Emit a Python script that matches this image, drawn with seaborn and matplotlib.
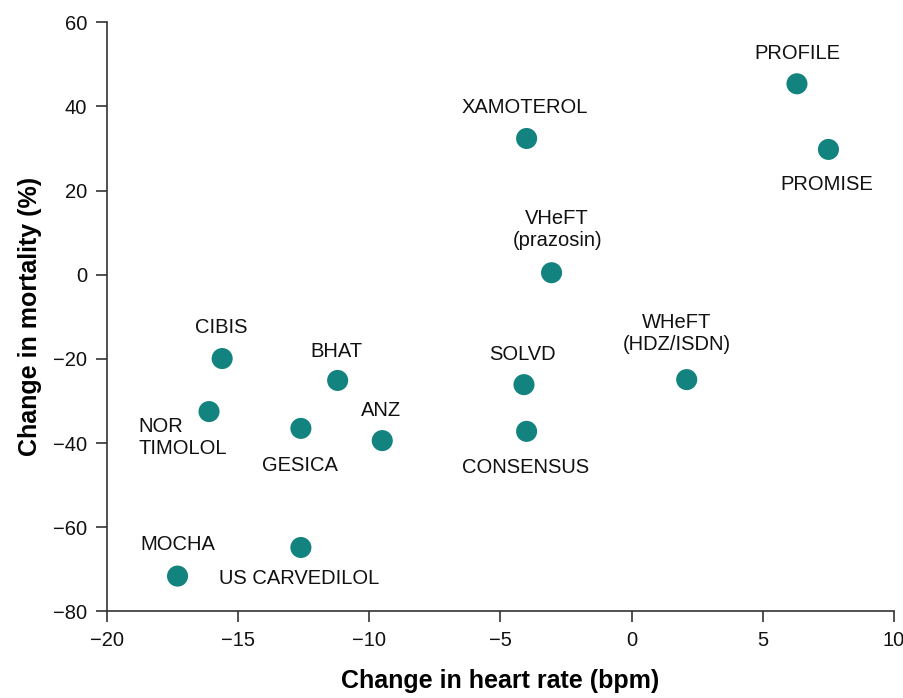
import pandas as pd
import matplotlib.pyplot as plt
import seaborn as sns

trials = ["PROFILE", "PROMISE", "XAMOTEROL", "VHeFT\n(prazosin)", "WHeFT\n(HDZ/ISDN)",
          "SOLVD", "CONSENSUS", "CIBIS", "BHAT", "NOR\nTIMOLOL", "GESICA", "ANZ",
          "MOCHA", "US CARVEDILOL"]
heart_rate = [6.3, 7.5, -4.0, -3.05, 2.1, -4.1, -4.0, -15.6, -11.2, -16.1, -12.6, -9.5, -17.3, -12.6]
mortality = [45.4, 29.8, 32.4, 0.5, -24.9, -26.1, -37.2, -19.9, -25.1, -32.5, -36.5, -39.4, -71.6, -64.8]

x_ticks = [-20, -15, -10, -5, 0, 5, 10]
y_ticks = [-80, -60, -40, -20, 0, 20, 40, 60]

# label offsets in points (dx, dy, ha)
label_pos = {
    "PROFILE": (0, 22, "center"),
    "PROMISE": (-1, -25, "center"),
    "XAMOTEROL": (-1, 22, "center"),
    "VHeFT\n(prazosin)": (4, 31, "center"),
    "WHeFT\n(HDZ/ISDN)": (-7, 33, "center"),
    "SOLVD": (-1, 22, "center"),
    "CONSENSUS": (-1, -26, "center"),
    "CIBIS": (-1, 22, "center"),
    "BHAT": (-1, 21, "center"),
    "NOR\nTIMOLOL": (-51, -19, "left"),
    "GESICA": (-1, -27, "center"),
    "ANZ": (-1, 22, "center"),
    "MOCHA": (0, 23, "center"),
    "US CARVEDILOL": (-1, -22, "center"),
}

df = pd.DataFrame({"trial": trials, "hr": heart_rate, "mort": mortality})

sns.set_style("ticks")
plt.rcParams["font.family"] = ["Liberation Sans", "DejaVu Sans"]

fig = plt.figure(figsize=(9.04, 6.98), dpi=100)
ax = fig.add_axes([0.118, 0.124, 0.871, 0.844])
sns.scatterplot(data=df, x="hr", y="mort", ax=ax, color="#12837e", s=230,
                edgecolor="none", zorder=3)

for _, r in df.iterrows():
    dx, dy, ha = label_pos[r["trial"]]
    ax.annotate(r["trial"], (r["hr"], r["mort"]), xytext=(dx, dy),
                textcoords="offset points", ha=ha, va="center",
                fontsize=14.5, color="#111111", multialignment=ha,
                linespacing=1.2)

ax.set_xlim(-20, 10)
ax.set_ylim(-80, 60)
ax.set_xticks(x_ticks)
ax.set_yticks(y_ticks)
ax.set_xticklabels([str(t).replace("-", "\u2212") for t in x_ticks])
ax.set_yticklabels([str(t).replace("-", "\u2212") for t in y_ticks])
ax.tick_params(labelsize=14.5, length=8, width=1.2, colors="#333333",
               labelcolor="#111111", pad=6)
for side in ["left", "bottom"]:
    ax.spines[side].set_linewidth(1.2)
    ax.spines[side].set_color("#333333")
sns.despine(ax=ax)

ax.set_xlabel("Change in heart rate (bpm)", fontsize=18, fontweight="bold",
              labelpad=14, color="black")
ax.set_ylabel("Change in mortality (%)", fontsize=18, fontweight="bold",
              labelpad=8, color="black")

fig.savefig("out.png", dpi=100)
